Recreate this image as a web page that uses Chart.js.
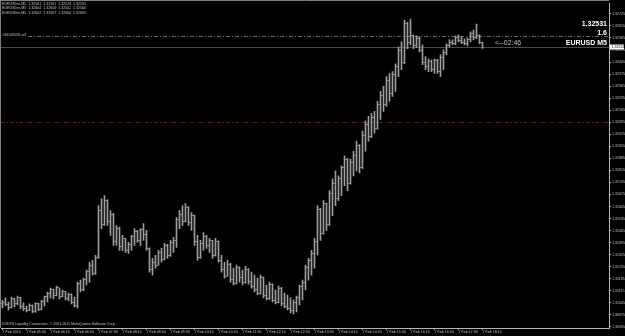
<!DOCTYPE html>
<html>
<head>
<meta charset="utf-8">
<script src="https://cdn.jsdelivr.net/npm/chart.js@4/dist/chart.umd.min.js"></script>
<style>
  html, body { margin: 0; padding: 0; background: #000; }
  canvas { display: block; }
</style>
</head>
<body>
<canvas id="myChart" width="625" height="336"></canvas>
<script>
/* EURUSD M5 bars */
const highs = [
  1.31062, 1.31074, 1.31050, 1.31079, 1.31072, 1.31085, 1.31078, 1.31045, 1.31027, 1.31039,
  1.31033, 1.31045, 1.31042, 1.31062, 1.31085, 1.31108, 1.31131, 1.31125, 1.31143, 1.31131,
  1.31120, 1.31112, 1.31102, 1.31097, 1.31079, 1.31166, 1.31177, 1.31189, 1.31235, 1.31281,
  1.31293, 1.31322, 1.31610, 1.31651, 1.31668, 1.31645, 1.31581, 1.31565, 1.31495, 1.31485,
  1.31437, 1.31420, 1.31397, 1.31437, 1.31477, 1.31466, 1.31477, 1.31506, 1.31466, 1.31365,
  1.31304, 1.31322, 1.31350, 1.31362, 1.31391, 1.31385, 1.31408, 1.31426, 1.31541, 1.31581,
  1.31610, 1.31622, 1.31605, 1.31570, 1.31555, 1.31437, 1.31408, 1.31454, 1.31437, 1.31420,
  1.31408, 1.31420, 1.31405, 1.31322, 1.31281, 1.31293, 1.31275, 1.31247, 1.31264, 1.31255,
  1.31235, 1.31258, 1.31245, 1.31224, 1.31206, 1.31189, 1.31206, 1.31195, 1.31149, 1.31166,
  1.31155, 1.31120, 1.31143, 1.31135, 1.31102, 1.31091, 1.31074, 1.31062, 1.31085, 1.31149,
  1.31177, 1.31264, 1.31304, 1.31350, 1.31420, 1.31610, 1.31595, 1.31639, 1.31625, 1.31697,
  1.31766, 1.31812, 1.31783, 1.31841, 1.31899, 1.31885, 1.31881, 1.31927, 1.31985, 1.31965,
  1.32043, 1.32101, 1.32129, 1.32147, 1.32158, 1.32216, 1.32274, 1.32303, 1.32360, 1.32378,
  1.32389, 1.32435, 1.32533, 1.32562, 1.32689, 1.32675, 1.32695, 1.32603, 1.32597, 1.32591,
  1.32545, 1.32476, 1.32464, 1.32458, 1.32464, 1.32460, 1.32487, 1.32516, 1.32551, 1.32574,
  1.32574, 1.32597, 1.32603, 1.32591, 1.32580, 1.32585, 1.32620, 1.32631, 1.32666, 1.32603,
  1.32561
];
const lows = [
  1.31016, 1.31027, 1.31004, 1.31015, 1.31022, 1.31033, 1.31010, 1.30999, 1.30993, 1.30999,
  1.30987, 1.30990, 1.30999, 1.31004, 1.31027, 1.31050, 1.31074, 1.31068, 1.31085, 1.31068,
  1.31079, 1.31062, 1.31056, 1.31039, 1.31022, 1.31016, 1.31108, 1.31115, 1.31149, 1.31166,
  1.31206, 1.31210, 1.31304, 1.31477, 1.31495, 1.31495, 1.31437, 1.31379, 1.31379, 1.31350,
  1.31350, 1.31339, 1.31333, 1.31350, 1.31379, 1.31397, 1.31379, 1.31408, 1.31350, 1.31224,
  1.31206, 1.31247, 1.31264, 1.31281, 1.31295, 1.31304, 1.31315, 1.31339, 1.31368, 1.31477,
  1.31495, 1.31515, 1.31495, 1.31466, 1.31379, 1.31293, 1.31304, 1.31350, 1.31362, 1.31339,
  1.31304, 1.31316, 1.31281, 1.31224, 1.31189, 1.31200, 1.31166, 1.31149, 1.31155, 1.31166,
  1.31149, 1.31160, 1.31154, 1.31131, 1.31108, 1.31091, 1.31095, 1.31074, 1.31062, 1.31065,
  1.31050, 1.31039, 1.31045, 1.31027, 1.31016, 1.31004, 1.30987, 1.30981, 1.30993, 1.31033,
  1.31062, 1.31120, 1.31177, 1.31206, 1.31247, 1.31322, 1.31408, 1.31445, 1.31466, 1.31495,
  1.31552, 1.31610, 1.31639, 1.31668, 1.31726, 1.31697, 1.31735, 1.31783, 1.31812, 1.31801,
  1.31825, 1.31927, 1.31985, 1.32005, 1.32031, 1.32054, 1.32112, 1.32158, 1.32187, 1.32216,
  1.32245, 1.32274, 1.32360, 1.32401, 1.32435, 1.32522, 1.32545, 1.32522, 1.32528, 1.32504,
  1.32429, 1.32401, 1.32389, 1.32389, 1.32378, 1.32378, 1.32360, 1.32401, 1.32487, 1.32533,
  1.32545, 1.32545, 1.32562, 1.32551, 1.32545, 1.32539, 1.32562, 1.32574, 1.32580, 1.32551,
  1.32524
];
const opens = [
  1.31040, 1.31050, 1.31035, 1.31020, 1.31070, 1.31040, 1.31075, 1.31025, 1.31010, 1.31000,
  1.31030, 1.30995, 1.31040, 1.31005, 1.31055, 1.31080, 1.31100, 1.31125, 1.31085, 1.31135,
  1.31080, 1.31110, 1.31070, 1.31095, 1.31050, 1.31030, 1.31155, 1.31120, 1.31180, 1.31225,
  1.31260, 1.31215, 1.31310, 1.31580, 1.31500, 1.31640, 1.31520, 1.31560, 1.31400, 1.31480,
  1.31370, 1.31420, 1.31350, 1.31385, 1.31430, 1.31460, 1.31410, 1.31470, 1.31440, 1.31360,
  1.31240, 1.31280, 1.31260, 1.31340, 1.31300, 1.31380, 1.31320, 1.31395, 1.31410, 1.31530,
  1.31560, 1.31520, 1.31600, 1.31510, 1.31550, 1.31400, 1.31310, 1.31390, 1.31430, 1.31380,
  1.31405, 1.31320, 1.31400, 1.31290, 1.31240, 1.31200, 1.31270, 1.31180, 1.31160, 1.31250,
  1.31190, 1.31165, 1.31240, 1.31170, 1.31140, 1.31120, 1.31100, 1.31190, 1.31085, 1.31070,
  1.31150, 1.31060, 1.31050, 1.31130, 1.31040, 1.31025, 1.31010, 1.31000, 1.31050, 1.31075,
  1.31140, 1.31165, 1.31250, 1.31290, 1.31330, 1.31400, 1.31590, 1.31450, 1.31620, 1.31500,
  1.31680, 1.31740, 1.31650, 1.31770, 1.31830, 1.31880, 1.31740, 1.31860, 1.31900, 1.31960,
  1.31830, 1.32020, 1.32080, 1.32010, 1.32120, 1.32060, 1.32200, 1.32250, 1.32200, 1.32340,
  1.32260, 1.32370, 1.32420, 1.32510, 1.32440, 1.32670, 1.32560, 1.32600, 1.32540, 1.32580,
  1.32510, 1.32440, 1.32420, 1.32450, 1.32400, 1.32455, 1.32390, 1.32470, 1.32500, 1.32540,
  1.32560, 1.32550, 1.32590, 1.32570, 1.32560, 1.32550, 1.32575, 1.32610, 1.32590, 1.32600,
  1.32561
];
const closes = [
  1.31050, 1.31035, 1.31020, 1.31070, 1.31040, 1.31075, 1.31025, 1.31010, 1.31000, 1.31030,
  1.30995, 1.31040, 1.31005, 1.31055, 1.31080, 1.31100, 1.31125, 1.31085, 1.31135, 1.31080,
  1.31110, 1.31070, 1.31095, 1.31050, 1.31030, 1.31155, 1.31120, 1.31180, 1.31225, 1.31260,
  1.31215, 1.31310, 1.31580, 1.31500, 1.31640, 1.31520, 1.31560, 1.31400, 1.31480, 1.31370,
  1.31420, 1.31350, 1.31385, 1.31430, 1.31460, 1.31410, 1.31470, 1.31440, 1.31360, 1.31240,
  1.31280, 1.31260, 1.31340, 1.31300, 1.31380, 1.31320, 1.31395, 1.31410, 1.31530, 1.31560,
  1.31520, 1.31600, 1.31510, 1.31550, 1.31400, 1.31310, 1.31390, 1.31430, 1.31380, 1.31405,
  1.31320, 1.31400, 1.31290, 1.31240, 1.31200, 1.31270, 1.31180, 1.31160, 1.31250, 1.31190,
  1.31165, 1.31240, 1.31170, 1.31140, 1.31120, 1.31100, 1.31190, 1.31085, 1.31070, 1.31150,
  1.31060, 1.31050, 1.31130, 1.31040, 1.31025, 1.31010, 1.31000, 1.31050, 1.31075, 1.31140,
  1.31165, 1.31250, 1.31290, 1.31330, 1.31400, 1.31590, 1.31450, 1.31620, 1.31500, 1.31680,
  1.31740, 1.31650, 1.31770, 1.31830, 1.31880, 1.31740, 1.31860, 1.31900, 1.31960, 1.31830,
  1.32020, 1.32080, 1.32010, 1.32120, 1.32060, 1.32200, 1.32250, 1.32200, 1.32340, 1.32260,
  1.32370, 1.32420, 1.32510, 1.32440, 1.32670, 1.32560, 1.32600, 1.32540, 1.32580, 1.32510,
  1.32440, 1.32420, 1.32450, 1.32400, 1.32455, 1.32390, 1.32470, 1.32500, 1.32540, 1.32560,
  1.32550, 1.32590, 1.32570, 1.32560, 1.32550, 1.32575, 1.32610, 1.32590, 1.32600, 1.32560,
  1.32531
];

// one label every 8 bars (40 minutes)
const timeLabels = [
  '7 Feb 2012', '7 Feb 05:30', '7 Feb 06:10', '7 Feb 06:50', '7 Feb 07:30', '7 Feb 08:10',
  '7 Feb 08:50', '7 Feb 09:30', '7 Feb 10:10', '7 Feb 10:50', '7 Feb 11:30', '7 Feb 12:10',
  '7 Feb 12:50', '7 Feb 13:30', '7 Feb 14:10', '7 Feb 14:50', '7 Feb 15:30', '7 Feb 16:10',
  '7 Feb 16:50', '7 Feb 17:30', '7 Feb 18:10'
];
const priceTicks = [
  1.32725, 1.32655, 1.32585, 1.32515, 1.32445, 1.32375, 1.32305, 1.32235, 1.32165,
  1.32095, 1.32025, 1.31955, 1.31885, 1.31815, 1.31745, 1.31675, 1.31605, 1.31535,
  1.31465, 1.31395, 1.31325, 1.31255, 1.31185, 1.31115, 1.31045, 1.30975, 1.30905
];

const bidPrice = 1.32531;
const orderPrice = 1.32598;
const levelPrice = 1.32094;
const infoLines = [
  'EURUSDm,M5  1.32561  1.32561  1.32524  1.32531',
  'EURUSDm,M5  1.32604  1.32606  1.32502  1.32560',
  'EURUSDm,M5  1.32602  1.32607  1.32604  1.32605'
];

const barIndex = highs.map((h, i) => i);
const barColor = '#9c9c9c';
const textColor = '#c0c0c0';
const axisColor = '#b4b4b4';
const smallFont = '3.6px "Liberation Sans", Arial, sans-serif';

// open / close ticks of the OHLC bars
const ohlcTicks = {
  id: 'ohlcTicks',
  afterDatasetsDraw(chart) {
    const {ctx, scales: {x, y}} = chart;
    ctx.save();
    ctx.fillStyle = '#8a8a8a';
    barIndex.forEach(i => {
      const px = Math.round(x.getPixelForValue(i) - 0.5);
      ctx.fillRect(px - 1, Math.round(y.getPixelForValue(opens[i]) - 0.5), 1, 1);
      ctx.fillRect(px + 1, Math.round(y.getPixelForValue(closes[i]) - 0.5), 1, 1);
    });
    ctx.restore();
  }
};

// horizontal levels: order line, bid line, red level
const levels = {
  id: 'levels',
  beforeDatasetsDraw(chart) {
    const {ctx, chartArea: a, scales: {y}} = chart;
    const line = (price, color, dash) => {
      const py = Math.round(y.getPixelForValue(price)) + 0.5;
      ctx.save();
      ctx.strokeStyle = color;
      ctx.lineWidth = 1;
      ctx.setLineDash(dash);
      ctx.beginPath();
      ctx.moveTo(a.left, py);
      ctx.lineTo(a.right, py);
      ctx.stroke();
      ctx.restore();
    };
    line(levelPrice, '#701818', [4, 2, 1, 2]);
    line(orderPrice, '#686868', [4, 2, 1, 2]);
    line(bidPrice, '#4c4c4c', []);
  }
};

// texts and frame drawn the MT4 way
const overlay = {
  id: 'overlay',
  afterDraw(chart) {
    const {ctx, chartArea: a, scales: {y}} = chart;
    ctx.save();
    ctx.strokeStyle = '#808080';
    ctx.lineWidth = 1;
    ctx.beginPath();
    ctx.moveTo(0, 0.5); ctx.lineTo(a.right, 0.5);
    ctx.moveTo(0.5, 0); ctx.lineTo(0.5, a.bottom);
    ctx.stroke();

    ctx.font = smallFont;
    ctx.fillStyle = textColor;
    ctx.textBaseline = 'middle';
    ctx.textAlign = 'left';
    infoLines.forEach((t, k) => ctx.fillText(t, 2, 3.5 + k * 4.6));

    // order label over its line
    const oy = Math.round(y.getPixelForValue(orderPrice)) - 1;
    ctx.fillStyle = '#000';
    ctx.fillRect(1, oy - 2, 27, 4);
    ctx.fillStyle = textColor;
    ctx.fillText('#34143558 sell', 2, oy);

    ctx.fillText('ICM FX Liquidity Connection, © 2001-2011 MetaQuotes Software Corp.', 2, a.bottom - 4.5);

    ctx.fillStyle = '#ffffff';
    ctx.textAlign = 'right';
    ctx.textBaseline = 'alphabetic';
    ctx.font = 'bold 7px "Liberation Sans", Arial, sans-serif';
    ctx.fillText('1.32531', 607, 25.5);
    ctx.fillText('1.6', 607, 34.5);
    ctx.fillText('EURUSD M5', 607, 45);

    ctx.textAlign = 'left';
    ctx.fillStyle = textColor;
    ctx.font = '7px "Liberation Sans", Arial, sans-serif';
    ctx.fillText('<--02:46', 495, 44.5);

    // bid price box on the axis
    const by = Math.round(y.getPixelForValue(bidPrice));
    ctx.fillStyle = '#ffffff';
    ctx.fillRect(a.right + 1, by - 2.5, 14, 5);
    ctx.fillStyle = '#000';
    ctx.font = smallFont;
    ctx.textBaseline = 'middle';
    ctx.fillText(bidPrice.toFixed(5), a.right + 2.5, by);
    ctx.restore();
  }
};

const ctx = document.getElementById('myChart').getContext('2d');
const chart = new Chart(ctx, {
  type: 'bar',
  data: {
    datasets: [{
      label: 'EURUSD M5',
      data: barIndex.map(i => ({x: i, y: [lows[i], highs[i]]})),
      backgroundColor: barColor,
      borderWidth: 0,
      barThickness: 1
    }]
  },
  options: {
    responsive: false,
    animation: false,
    devicePixelRatio: 1,
    layout: { padding: { left: 1, top: 1, right: 0, bottom: 0 } },
    plugins: {
      legend: { display: false },
      tooltip: { enabled: false }
    },
    scales: {
      x: {
        type: 'linear',
        min: -0.5,
        max: 202.1667,
        offset: false,
        grid: { drawOnChartArea: false, tickLength: 2, color: axisColor, offset: false },
        border: { display: true, color: axisColor },
        ticks: {
          color: textColor,
          font: { size: 3.6, family: '"Liberation Sans", Arial, sans-serif' },
          align: 'start',
          autoSkip: false,
          maxRotation: 0,
          padding: 0,
          callback: (v, idx) => timeLabels[idx]
        },
        afterBuildTicks: axis => { axis.ticks = timeLabels.map((t, k) => ({value: k * 8})); },
        afterFit: axis => { axis.height = 8; }
      },
      y: {
        position: 'right',
        min: 1.30899,
        max: 1.32787,
        grid: { drawOnChartArea: false, tickLength: 2, color: axisColor },
        border: { display: true, color: axisColor },
        ticks: {
          color: textColor,
          font: { size: 3.6, family: '"Liberation Sans", Arial, sans-serif' },
          padding: 1,
          callback: v => v.toFixed(5)
        },
        afterBuildTicks: axis => { axis.ticks = priceTicks.map(v => ({value: v})); },
        afterFit: axis => { axis.width = 16; }
      }
    }
  },
  plugins: [levels, ohlcTicks, overlay]
});
</script>
</body>
</html>
